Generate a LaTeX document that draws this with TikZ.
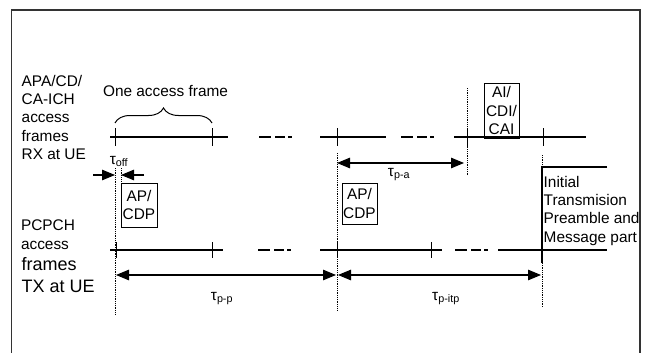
\documentclass[tikz,border=0pt]{standalone}
\usepackage{fontspec}
\setmainfont{Liberation Sans}
\usetikzlibrary{arrows.meta,decorations.pathreplacing}
\begin{document}
\begin{tikzpicture}[x=1pt,y=-1pt,
  txt/.style={font=\fontsize{15.4}{18.3}\selectfont, inner sep=0pt},
  lbl/.style={txt, align=left, anchor=north west},
  boxnode/.style={txt, draw, line width=0.9pt, align=center, inner sep=1pt},
  tl/.style={line width=1.1pt},
  gapdash/.style={line width=1.1pt, dash pattern=on 12pt off 4pt on 10pt off 3pt on 4pt off 40pt},
  tickmark/.style={line width=1pt},
  dotl/.style={line width=0.8pt, dash pattern=on 0.8pt off 1pt},
  dimarrow/.style={line width=1.1pt, {Triangle[length=13pt,width=10.5pt]}-{Triangle[length=13pt,width=10.5pt]}},
  onearrow/.style={line width=1.1pt, -{Triangle[length=13pt,width=10.5pt]}},
  border/.style={line width=1.3pt, black!80}
]
\useasboundingbox (0,0) rectangle (648,353);
% frame
\draw[border] (11.5,353) -- (11.5,10) -- (640,10) -- (640,353);

% RX timeline
\draw[tl] (110,137) -- (228,137);
\draw[gapdash] (259,137) -- (293,137);
\draw[tl] (320,137) -- (386,137);
\draw[gapdash] (401,137) -- (435,137);
\draw[tl] (454,137) -- (586,137);
\foreach \x in {115,212,337,467,543} \draw[tickmark] (\x,128) -- (\x,146);

% TX timeline
\draw[tl] (110,250) -- (223,250);
\draw[gapdash] (258,250) -- (292,250);
\draw[tl] (320,250) -- (442,250);
\draw[gapdash] (455,250) -- (489,250);
\draw[tl] (498,250) -- (607,250);
\foreach \x in {116,212,337,431} \draw[tickmark] (\x,242) -- (\x,258);

% dotted guides
\draw[dotl] (115,168) -- (115,315);
\draw[dotl] (121,168) -- (121,181);
\draw[dotl] (337,153) -- (337,310);
\draw[dotl] (467,88) -- (467,176);
\draw[dotl] (542,155) -- (542,167);
\draw[dotl] (542,263) -- (542,307);

% initial transmission bracket
\coordinate (itTop) at (542,167);
\coordinate (itTopR) at (607,167);
\coordinate (itBot) at (542,263);
\draw[tl] (itTopR) -- (itTop) -- (itBot);

% brace
\coordinate (brL) at (115,123);
\coordinate (brR) at (212,123);
\draw[line width=1pt, decorate, decoration={brace, amplitude=15pt}] (brL) -- (brR);

% dimension arrows
\coordinate (offL) at (115,175);
\coordinate (offR) at (121,175);
\coordinate (offLs) at (93,175);
\coordinate (offRs) at (144,175);
\draw[onearrow] (offLs) -- (offL);
\draw[onearrow] (offRs) -- (offR);
\coordinate (paL) at (337,163);
\coordinate (paR) at (464,163);
\draw[dimarrow] (paL) -- (paR);
\coordinate (ppL) at (116,275);
\coordinate (ppR) at (336,275);
\draw[dimarrow] (ppL) -- (ppR);
\coordinate (itpL) at (338,275);
\coordinate (itpR) at (541,275);
\draw[dimarrow] (itpL) -- (itpR);

% texts
\node[lbl] (rxlbl) at (21.5,75) {APA/CD/\\CA-ICH\\access\\frames\\RX at UE};
\node[lbl] (txlbl1) at (20.8,220) {PCPCH\\access};
\node[lbl, font=\fontsize{18}{22}\selectfont] (txlbl2) at (21.5,257) {frames\\TX at UE};
\node[txt, anchor=base] (oaf) at (165.5,96.5) {One access frame};
\node[boxnode, minimum width=36pt, minimum height=44pt] (ap1) at (139,205) {AP/\\CDP};
\node[boxnode, minimum width=35pt, minimum height=41pt] (ap2) at (359.5,203.5) {AP/\\CDP};
\node[boxnode, minimum width=35pt, minimum height=55pt] (ai) at (501.5,110.5) {AI/\\CDI/\\CAI};
\node[lbl] (init) at (543.5,176) {Initial\\Transmision\\Preamble and\\Message part};
\node[txt, anchor=base] (toff) at (119,164) {τ\textsubscript{off}};
\node[txt, anchor=base] (tpa) at (399,176) {τ\textsubscript{p-a}};
\node[txt, anchor=base] (tpp) at (222,300) {τ\textsubscript{p-p}};
\node[txt, anchor=base] (tpitp) at (446,300) {τ\textsubscript{p-itp}};
\end{tikzpicture}
\end{document}
